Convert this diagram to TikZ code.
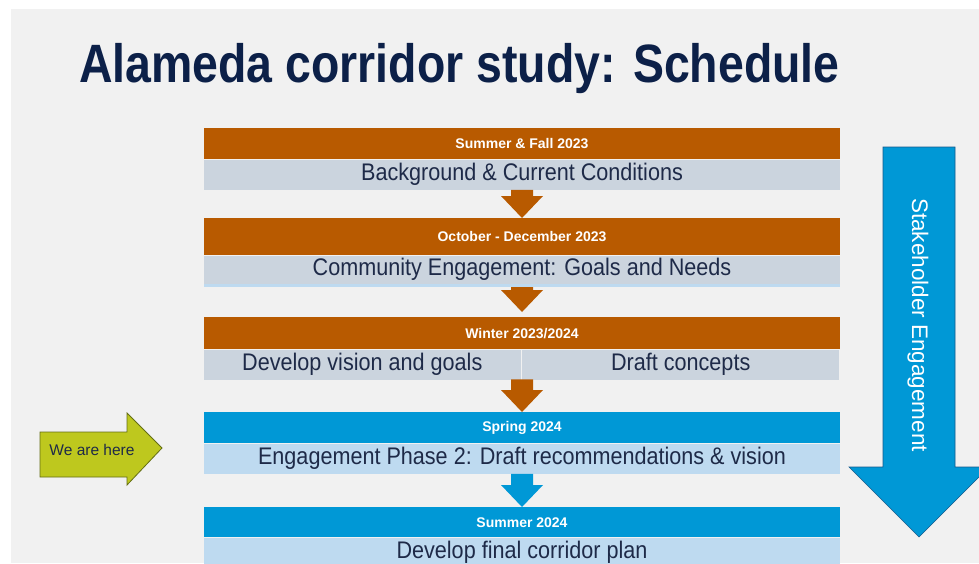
\documentclass[tikz,border=0pt]{standalone}
\usepackage{fontspec}
\setmainfont{Liberation Sans}
\newfontfamily\titlefont[FakeStretch=0.86]{Liberation Sans}
\newfontfamily\bodyfont[FakeStretch=0.9]{Liberation Sans}
\usetikzlibrary{calc}
\definecolor{bgC}{RGB}{241,241,241}
\definecolor{navyC}{RGB}{12,32,72}
\definecolor{textC}{RGB}{30,42,72}
\definecolor{orangeC}{RGB}{184,90,0}
\definecolor{grayband}{RGB}{203,212,222}
\definecolor{blueC}{RGB}{0,152,214}
\definecolor{blueband}{RGB}{190,218,240}
\definecolor{blueEdge}{RGB}{20,90,140}
\definecolor{limeC}{RGB}{190,200,30}
\definecolor{limeEdge}{RGB}{100,110,20}
\tikzset{
  hdr/.style={fill=#1, text=white, font=\fontsize{14}{16}\selectfont\bfseries,
    minimum width=636pt, inner sep=0pt, anchor=north},
  band/.style={fill=#1, text=textC, font=\bodyfont\fontsize{24}{26}\selectfont,
    minimum width=636pt, inner sep=0pt, anchor=north},
  halfband/.style={fill=grayband, text=textC, font=\bodyfont\fontsize{24}{26}\selectfont,
    minimum width=317pt, minimum height=30pt, inner sep=0pt},
}
\newcommand{\blockarrow}[3]{%
  \fill[#1] ($(#2)+(-11,0)$) -- ($(#2)+(11,0)$) -- ($(#3)+(11,-22)$) -- ($(#3)+(21,-22)$)
    -- (#3) -- ($(#3)+(-21,-22)$) -- ($(#3)+(-11,-22)$) -- cycle;}
\begin{document}
\begin{tikzpicture}[x=1pt,y=-1pt]
\useasboundingbox (0,0) rectangle (979,563);
\clip (0,0) rectangle (979,563);
\fill[white] (0,0) rectangle (979,563);
\fill[bgC] (11,9) rectangle (979,563);

\node[text=navyC, font=\titlefont\fontsize{54}{60}\selectfont\bfseries, anchor=base west, inner sep=0pt]
  (title) at (79,82) {Alameda corridor study: Schedule};

% row 1
\node[hdr=orangeC, minimum height=31pt] (h1) at (522,128) {Summer \& Fall 2023};
\node[band=grayband, minimum height=30pt] (b1) at (h1.south) {Background \& Current Conditions};
% row 2
\node[hdr=orangeC, minimum height=37pt] (h2) at (522,218) {October - December 2023};
\node[band=grayband, minimum height=28pt] (b2) at (h2.south) {Community Engagement: Goals and Needs};
\node[fill=blueband, minimum width=636pt, minimum height=3pt, inner sep=0pt, anchor=north] (l2) at (b2.south) {};
% row 3
\node[hdr=orangeC, minimum height=32pt] (h3) at (522,317) {Winter 2023/2024};
\node[halfband, anchor=north east] (b3a) at ($(h3.south)+(-1,0)$) {Develop vision and goals};
\node[halfband, anchor=north west] (b3b) at ($(h3.south)+(0,0)$) {Draft concepts};
% row 4
\node[hdr=blueC, minimum height=31pt] (h4) at (522,412) {Spring 2024};
\node[band=blueband, minimum height=30pt] (b4) at (h4.south) {Engagement Phase 2: Draft recommendations \& vision};
% row 5
\node[hdr=blueC, minimum height=30pt] (h5) at (522,507) {Summer 2024};
\node[band=blueband, minimum height=30pt] (b5) at (h5.south) {Develop final corridor plan};

% connectors
\coordinate (t2) at ($(h3.north)+(0,-5)$);
\coordinate (s3) at ($(h3.south)+(0,30)$);
\blockarrow{orangeC}{b1.south}{h2.north}
\blockarrow{orangeC}{l2.south}{t2}
\blockarrow{orangeC}{s3}{h4.north}
\blockarrow{blueC}{b4.south}{h5.north}

% stakeholder arrow
\filldraw[fill=blueC, draw=blueEdge, line width=0.6pt]
  (883,147) -- (955,147) -- (955,467) -- (989,467) -- (919,537) -- (849,467) -- (883,467) -- cycle;
\node[text=white, rotate=-90, font=\fontsize{22.5}{24}\selectfont, inner sep=0pt] (se) at (918,325) {Stakeholder Engagement};

% we are here
\filldraw[fill=limeC, draw=limeEdge, line width=0.8pt]
  (40,432) -- (127,432) -- (127,413) -- (162,448) -- (127,485) -- (127,477) -- (40,477) -- cycle;
\node[text=textC, font=\fontsize{15.5}{17}\selectfont, inner sep=0pt] (here) at (92,450) {We are here};
\end{tikzpicture}
\end{document}
